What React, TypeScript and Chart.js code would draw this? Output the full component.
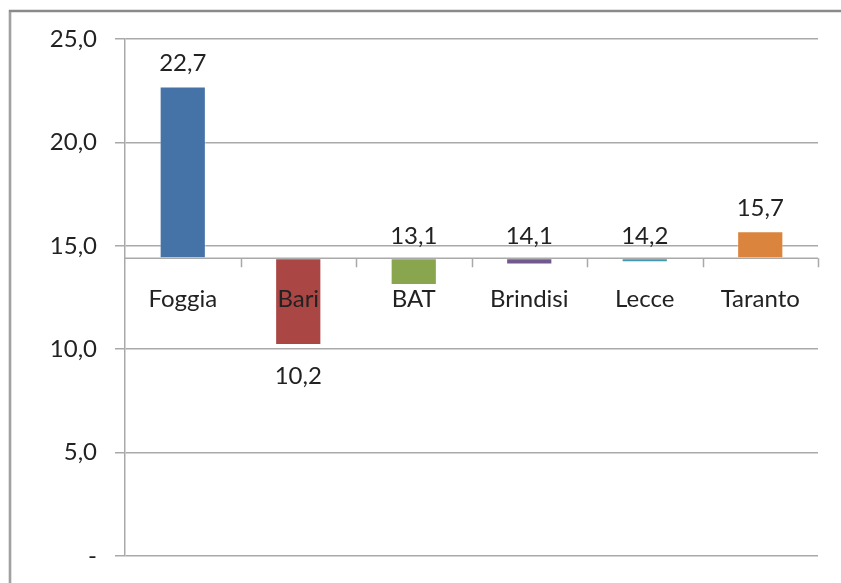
import React, { useEffect, useRef } from "react";
import { Chart, registerables } from "chart.js";

Chart.register(...registerables);

const categories = ["Foggia", "Bari", "BAT", "Brindisi", "Lecce", "Taranto"];
const values = [22.7, 10.2, 13.1, 14.1, 14.2, 15.7];
const baseValue = 14.4;
const barColors = ["#4572A7", "#AA4643", "#89A54E", "#71588F", "#4198AF", "#DB843D"];
const yTicks = [0, 5, 10, 15, 20, 25];

const FONT = "Lato, 'Open Sans', sans-serif";
const GRID = "#a9a9a9";

const fmt = (v: number) => (v === 0 ? "-" : v.toFixed(1).replace(".", ","));

const overlay = {
  id: "overlay",
  beforeDraw(chart: any) {
    const ctx = chart.ctx;
    ctx.save();
    ctx.fillStyle = "#ffffff";
    ctx.fillRect(0, 0, chart.width, chart.height);
    ctx.strokeStyle = "#8a8a8a";
    ctx.lineWidth = 2.5;
    ctx.beginPath();
    ctx.moveTo(10, chart.height);
    ctx.lineTo(10, 11);
    ctx.lineTo(chart.width, 11);
    ctx.stroke();
    ctx.strokeStyle = "#b0b0b0";
    ctx.lineWidth = 1.2;
    ctx.beginPath();
    ctx.moveTo(10, chart.height);
    ctx.lineTo(10, 12);
    ctx.stroke();
    ctx.restore();
  },
  afterDatasetsDraw(chart: any) {
    const ctx = chart.ctx;
    const xs = chart.scales.x;
    const ys = chart.scales.y;
    const area = chart.chartArea;
    const by = ys.getPixelForValue(baseValue);
    ctx.save();
    ctx.strokeStyle = GRID;
    ctx.lineWidth = 1.5;
    ctx.beginPath();
    ctx.moveTo(area.left, by);
    ctx.lineTo(area.right, by);
    const n = categories.length;
    const w = (area.right - area.left) / n;
    for (let i = 1; i <= n; i++) {
      const x = Math.round(area.left + w * i) + 0.5;
      ctx.moveTo(x, by);
      ctx.lineTo(x, by + 9);
    }
    ctx.stroke();
    ctx.fillStyle = "#222222";
    ctx.font = `24px ${FONT}`;
    ctx.textAlign = "center";
    ctx.textBaseline = "middle";
    categories.forEach((c, i) => {
      ctx.fillText(c, xs.getPixelForValue(i), by + 41);
    });
    values.forEach((v, i) => {
      const x = xs.getPixelForValue(i);
      let y: number;
      if (v >= baseValue) {
        y = ys.getPixelForValue(v) - 23;
      } else if (baseValue - v < 2) {
        y = by - 22;
      } else {
        y = ys.getPixelForValue(v) + 31;
      }
      ctx.fillText(fmt(v), x, y);
    });
    ctx.restore();
  },
};

export default function App() {
  const ref = useRef<HTMLCanvasElement | null>(null);
  useEffect(() => {
    if (!ref.current) return;
    const chart = new Chart(ref.current, {
      type: "bar",
      data: {
        labels: categories,
        datasets: [
          {
            data: values.map((v) => [baseValue, v]) as any,
            backgroundColor: barColors,
            borderColor: barColors.map(() => "rgba(255,255,255,0.35)"),
            borderWidth: 1,
            borderSkipped: false,
            categoryPercentage: 1,
            barPercentage: 0.4,
          },
        ],
      },
      plugins: [overlay],
      options: {
        animation: false,
        responsive: false,
        maintainAspectRatio: false,
        layout: { autoPadding: false, padding: { top: 39, bottom: 27, right: 23, left: 0 } },
        plugins: { legend: { display: false }, tooltip: { enabled: false } },
        scales: {
          x: {
            type: "category",
            display: false,
            offset: true,
          },
          y: {
            min: 0,
            max: 25,
            afterFit: (s: any) => {
              s.width = 125;
              s.paddingTop = 0;
              s.paddingBottom = 0;
            },
            afterBuildTicks: (s: any) => {
              s.ticks = yTicks.map((v) => ({ value: v }));
            },
            ticks: {
              callback: (v: any) => fmt(Number(v)),
              color: "#222222",
              font: { family: FONT, size: 24 },
              padding: 18,
            },
            grid: {
              color: GRID,
              lineWidth: 1.5,
              tickLength: 10,
              drawTicks: true,
            },
            border: { color: GRID, width: 1.5 },
          },
        },
      },
    });
    return () => chart.destroy();
  }, []);
  return (
    <div style={{ position: "fixed", left: 0, top: 0, width: 841, height: 583 }}>
      <canvas ref={ref} width={841} height={583} style={{ width: 841, height: 583 }} />
    </div>
  );
}
